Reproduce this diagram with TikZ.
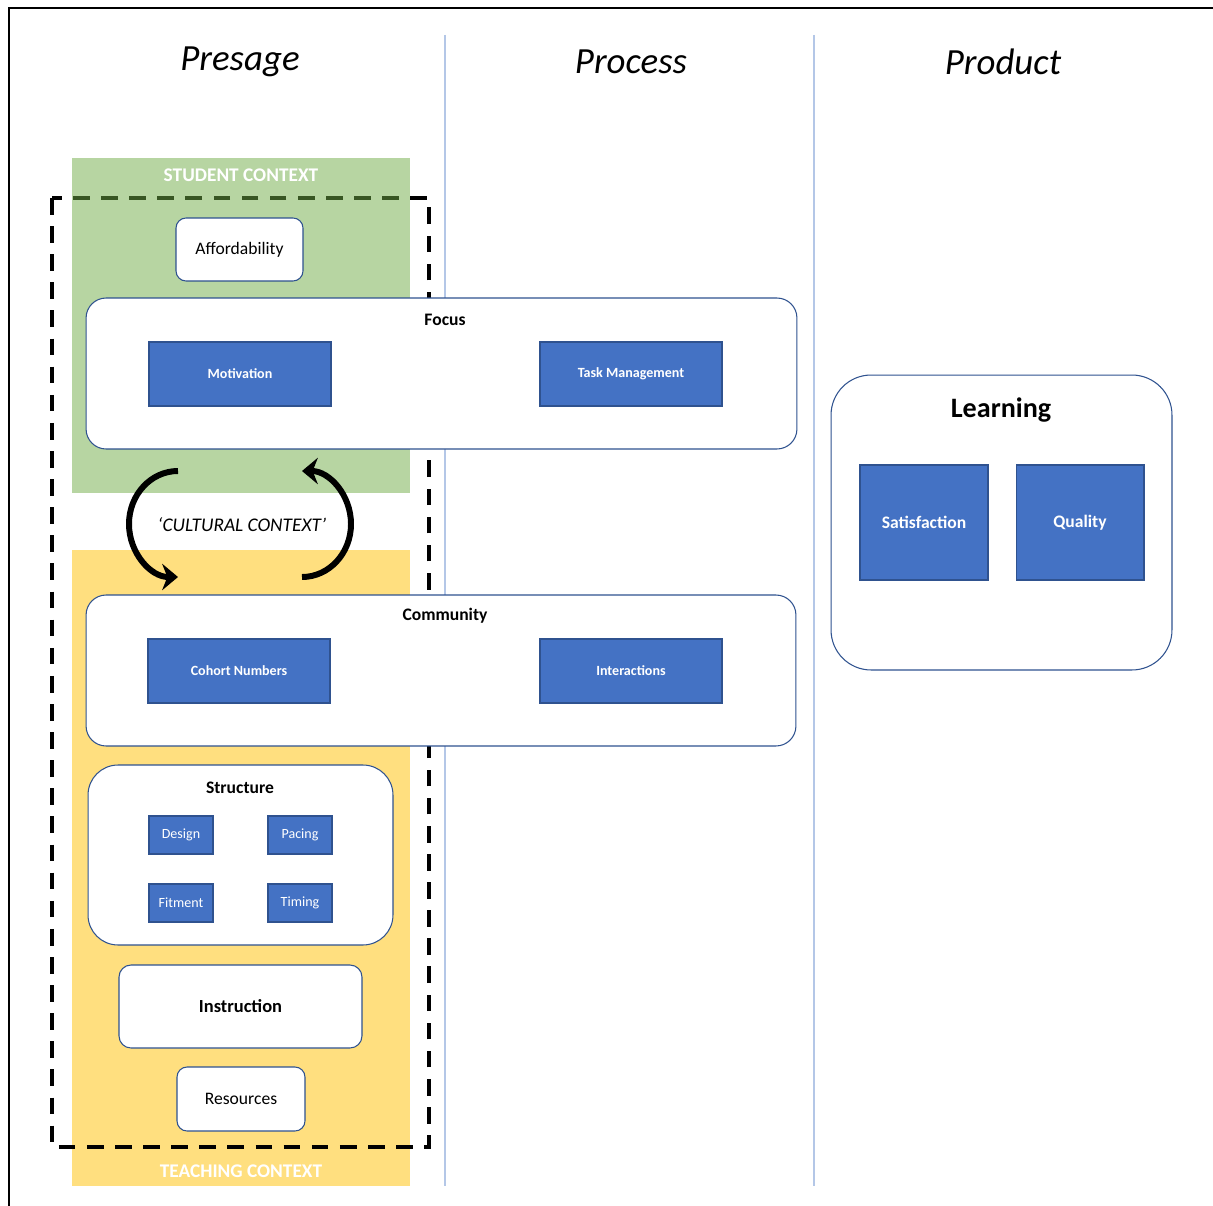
\documentclass[tikz,border=0pt]{standalone}
\usepackage{fontspec}
\setmainfont{Carlito}
\usepackage{tikz}
\usetikzlibrary{arrows.meta}
\usepackage{color}
\definecolor{officeblue}{RGB}{68,114,196}
\definecolor{officeedge}{RGB}{47,82,143}
\definecolor{officegreen}{RGB}{112,173,71}
\definecolor{officegold}{RGB}{255,192,0}
\definecolor{colline}{RGB}{180,199,231}

\begin{document}
\begin{tikzpicture}[x=0.02cm,y=-0.02cm]
\tikzstyle{every node}+=[inner sep=0pt]
\tikzstyle{title}=[font=\itshape\fontsize{21}{25}\selectfont]
\tikzstyle{ctxlabel}=[text=white,font=\bfseries\fontsize{11}{13}\selectfont]
\tikzstyle{softbox}=[draw=officeedge,fill=white,line width=0.6pt,rounded corners=0.2cm,font=\fontsize{10}{12}\selectfont]
\tikzstyle{bigbox}=[draw=officeedge,fill=white,line width=0.6pt,rounded corners=0.4cm]
\tikzstyle{boxtitle}=[font=\bfseries\fontsize{10}{12}\selectfont]
\tikzstyle{bluebox}=[draw=officeedge,fill=officeblue,line width=0.6pt,text=white,font=\bfseries\fontsize{8}{10}\selectfont,minimum width=3.64cm,minimum height=1.28cm]
\tikzstyle{smallblue}=[draw=officeedge,fill=officeblue,line width=0.6pt,text=white,font=\fontsize{8}{10}\selectfont,minimum width=1.28cm,minimum height=0.76cm]
\tikzstyle{cyc}=[line width=3.4pt,-{Stealth[length=9pt,width=15pt]}]
\useasboundingbox (0,0) rectangle (1213,1206);
\fill [white] (0,0) rectangle (1213,1206);
\draw [line width=1.2pt] (9,1206) -- (9,8) -- (1213,8);
\draw [colline,line width=1.4pt] (445,35) -- (445,1186);
\draw [colline,line width=1.4pt] (814,35) -- (814,1186);
\node [title] (presage) at (240,62) {Presage};
\node [title] (process) at (631,62) {Process};
\node [title] (product) at (1003,62) {Product};
\fill [officegold,opacity=0.5] (72,550) rectangle (410,1186);
\draw [line width=2.2pt,dash pattern=on 9.5pt off 6.5pt] (52,198) rectangle (429,1147);
\fill [officegreen,opacity=0.5] (72,158) rectangle (410,493);
\node [ctxlabel] (student) at (241,175) {STUDENT CONTEXT};
\node [ctxlabel] (teaching) at (241,1171) {TEACHING CONTEXT};
\node [softbox,minimum width=2.54cm,minimum height=1.26cm] (afford) at (239.5,249.5) {Affordability};
\node [bigbox,minimum width=14.22cm,minimum height=3.02cm] (focus) at (441.5,373.5) {};
\node [boxtitle] (focustitle) at (445,320) {Focus};
\node [bluebox] (motiv) at (240,374) {Motivation};
\node [bluebox] (taskman) at (631,374) {Task Management};
\node [font=\itshape\fontsize{11}{13}\selectfont] (culture) at (242,525) {‘CULTURAL CONTEXT’};
\coordinate (cycleft) at (178,471);
\coordinate (cycright) at (302,577);
\draw [cyc] (cycleft) arc [start angle=270,end angle=90,x radius=49,y radius=53];
\draw [cyc] (cycright) arc [start angle=90,end angle=-90,x radius=49,y radius=53];
\node [bigbox,minimum width=14.2cm,minimum height=3.02cm] (commun) at (441,670.5) {};
\node [boxtitle] (communtitle) at (445,616) {Community};
\node [bluebox] (cohort) at (239,671) {Cohort Numbers};
\node [bluebox] (interact) at (631,671) {Interactions};
\node [bigbox,rounded corners=0.6cm,minimum width=6.1cm,minimum height=3.6cm] (struct) at (240.5,855) {};
\node [boxtitle] (structtitle) at (240,788) {Structure};
\node [smallblue] (design) at (181,835) {Design};
\node [smallblue] (pacing) at (300,835) {Pacing};
\node [smallblue] (fitment) at (181,903) {Fitment};
\node [smallblue] (timing) at (300,903) {Timing};
\node [softbox,rounded corners=0.24cm,font=\bfseries\fontsize{10.5}{12}\selectfont,minimum width=4.86cm,minimum height=1.66cm] (instruct) at (240.5,1006.5) {Instruction};
\node [softbox,minimum width=2.56cm,minimum height=1.28cm] (resource) at (241,1099) {Resources};
\node [bigbox,rounded corners=0.8cm,minimum width=6.82cm,minimum height=5.9cm] (learn) at (1001.5,522.5) {};
\node [font=\bfseries\fontsize{16}{19}\selectfont] (learntitle) at (1001,410) {Learning};
\node [bluebox,font=\bfseries\fontsize{10}{12}\selectfont,minimum width=2.56cm,minimum height=2.3cm] (satisf) at (924,522.5) {Satisfaction};
\node [bluebox,font=\bfseries\fontsize{10}{12}\selectfont,minimum width=2.56cm,minimum height=2.3cm] (quality) at (1080,522.5) {Quality};
\end{tikzpicture}
\end{document}
